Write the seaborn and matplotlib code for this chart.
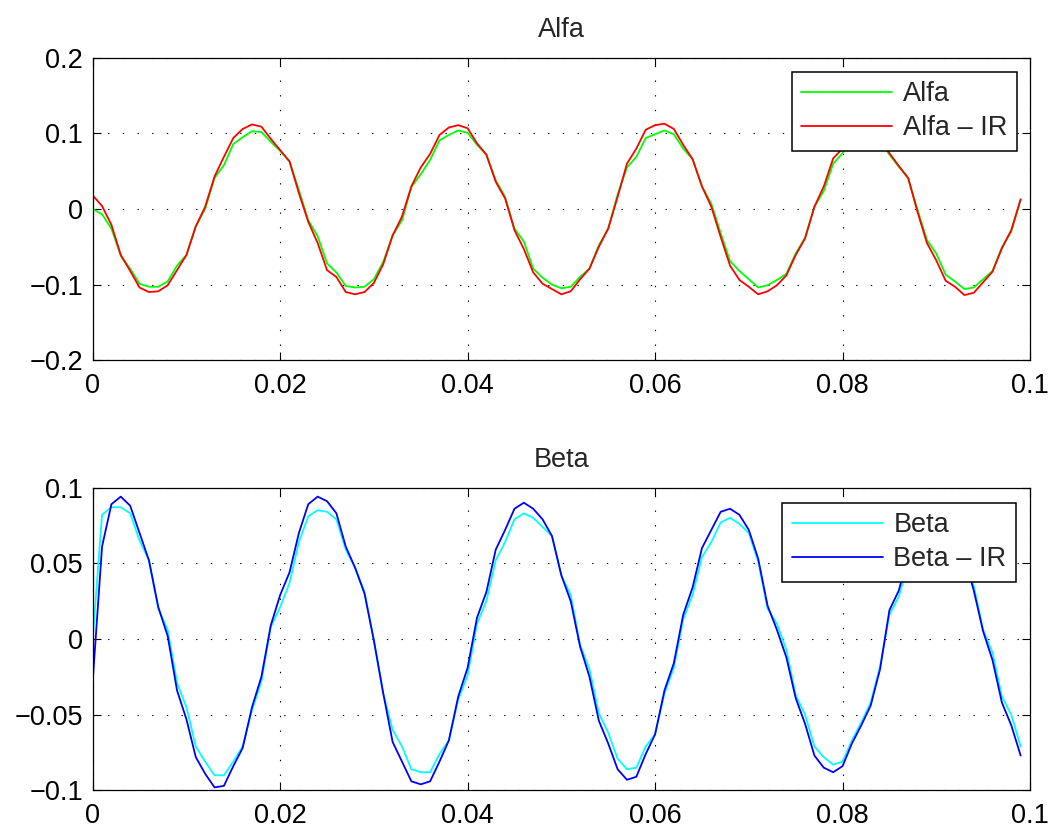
import matplotlib
matplotlib.use("Agg")
import matplotlib.pyplot as plt
import numpy as np
import pandas as pd
import seaborn as sns

# ── Data (1 kHz sampling, 100 samples) ───────────────────────────────────────
t = np.arange(100) * 0.001

alfa = [
    0.000, -0.007, -0.026, -0.062, -0.079, -0.099, -0.103, -0.103, -0.096, -0.075,
    -0.061, -0.023, 0.000, 0.041, 0.058, 0.086, 0.095, 0.103, 0.102, 0.089,
    0.077, 0.063, 0.025, -0.015, -0.036, -0.072, -0.084, -0.102, -0.104, -0.103,
    -0.093, -0.070, -0.035, -0.015, 0.029, 0.046, 0.065, 0.091, 0.098, 0.104,
    0.101, 0.085, 0.072, 0.038, 0.016, -0.026, -0.043, -0.079, -0.091, -0.100,
    -0.105, -0.103, -0.090, -0.079, -0.048, -0.026, 0.019, 0.055, 0.069, 0.094,
    0.099, 0.104, 0.099, 0.080, 0.066, 0.030, 0.007, -0.032, -0.069, -0.082,
    -0.093, -0.104, -0.101, -0.094, -0.086, -0.059, -0.038, 0.003, 0.024, 0.060,
    0.074, 0.093, 0.102, 0.103, 0.090, 0.072, 0.056, 0.041, -0.001, -0.041,
    -0.059, -0.087, -0.096, -0.106, -0.104, -0.093, -0.082, -0.051, -0.030, 0.012,
]

alfa_ir = [
    0.018, 0.004, -0.021, -0.061, -0.082, -0.104, -0.110, -0.109, -0.101, -0.081,
    -0.061, -0.023, 0.003, 0.043, 0.069, 0.094, 0.106, 0.112, 0.109, 0.093,
    0.078, 0.063, 0.021, -0.017, -0.045, -0.081, -0.090, -0.110, -0.113, -0.110,
    -0.098, -0.073, -0.035, -0.010, 0.030, 0.055, 0.073, 0.098, 0.108, 0.111,
    0.107, 0.087, 0.072, 0.036, 0.014, -0.028, -0.053, -0.084, -0.099, -0.106,
    -0.113, -0.109, -0.093, -0.079, -0.050, -0.026, 0.016, 0.060, 0.080, 0.105,
    0.111, 0.113, 0.106, 0.085, 0.066, 0.030, 0.003, -0.037, -0.075, -0.094,
    -0.103, -0.113, -0.109, -0.101, -0.088, -0.061, -0.039, 0.003, 0.030, 0.067,
    0.080, 0.100, 0.110, 0.111, 0.096, 0.074, 0.057, 0.041, -0.004, -0.045,
    -0.068, -0.095, -0.103, -0.114, -0.111, -0.097, -0.083, -0.052, -0.028, 0.013,
]

beta = [
    0.000, 0.082, 0.087, 0.087, 0.083, 0.065, 0.052, 0.020, 0.006, -0.029,
    -0.045, -0.071, -0.081, -0.090, -0.090, -0.081, -0.071, -0.047, -0.028, 0.008,
    0.021, 0.037, 0.064, 0.081, 0.085, 0.084, 0.079, 0.059, 0.047, 0.031,
    -0.001, -0.036, -0.060, -0.071, -0.086, -0.088, -0.088, -0.076, -0.067, -0.040,
    -0.024, 0.010, 0.025, 0.052, 0.064, 0.079, 0.083, 0.080, 0.074, 0.068,
    0.042, 0.029, -0.004, -0.020, -0.049, -0.062, -0.079, -0.086, -0.085, -0.071,
    -0.063, -0.036, -0.019, 0.013, 0.029, 0.054, 0.064, 0.077, 0.080, 0.076,
    0.070, 0.051, 0.020, 0.010, -0.007, -0.037, -0.050, -0.071, -0.078, -0.083,
    -0.081, -0.067, -0.055, -0.042, -0.018, 0.016, 0.028, 0.050, 0.066, 0.076,
    0.080, 0.077, 0.068, 0.052, 0.035, 0.006, -0.009, -0.038, -0.050, -0.071,
]

beta_ir = [
    -0.028, 0.061, 0.089, 0.094, 0.088, 0.070, 0.052, 0.021, 0.002, -0.034,
    -0.053, -0.078, -0.089, -0.098, -0.097, -0.084, -0.072, -0.045, -0.025, 0.009,
    0.029, 0.044, 0.070, 0.089, 0.094, 0.091, 0.083, 0.061, 0.047, 0.030,
    -0.001, -0.036, -0.068, -0.081, -0.094, -0.096, -0.094, -0.081, -0.067, -0.038,
    -0.019, 0.014, 0.031, 0.059, 0.072, 0.086, 0.090, 0.086, 0.079, 0.068,
    0.042, 0.025, -0.005, -0.025, -0.054, -0.069, -0.086, -0.093, -0.091, -0.076,
    -0.063, -0.034, -0.016, 0.016, 0.034, 0.060, 0.072, 0.084, 0.086, 0.082,
    0.072, 0.053, 0.022, 0.006, -0.012, -0.039, -0.056, -0.077, -0.085, -0.088,
    -0.084, -0.069, -0.057, -0.044, -0.020, 0.019, 0.032, 0.055, 0.072, 0.083,
    0.086, 0.082, 0.072, 0.054, 0.032, 0.005, -0.014, -0.042, -0.057, -0.077,
]

x_ticks = [0, 0.02, 0.04, 0.06, 0.08, 0.1]
x_tick_labels = ["0", "0.02", "0.04", "0.06", "0.08", "0.1"]
alfa_ticks = [-0.2, -0.1, 0, 0.1, 0.2]
alfa_tick_labels = ["\u22120.2", "\u22120.1", "0", "0.1", "0.2"]
beta_ticks = [-0.1, -0.05, 0, 0.05, 0.1]
beta_tick_labels = ["\u22120.1", "\u22120.05", "0", "0.05", "0.1"]

FS = 19.5

sns.set_style("ticks")
plt.rcParams["font.family"] = ["Liberation Sans", "DejaVu Sans"]


def draw_panel(ax, title, names, series, colors, yticks, ylabels, legend_anchor):
    df = pd.DataFrame({"t": t, names[0]: series[0], names[1]: series[1]})
    long = df.melt(id_vars="t", var_name="series", value_name="value")
    sns.lineplot(
        data=long, x="t", y="value", hue="series", hue_order=names,
        palette=dict(zip(names, colors)), linewidth=1.3, ax=ax,
    )
    ax.set_xlim(0, 0.1)
    ax.set_ylim(yticks[0], yticks[-1])
    ax.set_xticks(x_ticks)
    ax.set_xticklabels(x_tick_labels, fontsize=FS)
    ax.set_yticks(yticks)
    ax.set_yticklabels(ylabels, fontsize=FS)
    ax.set_xlabel("")
    ax.set_ylabel("")
    ax.set_title(title, fontsize=FS, pad=15)
    ax.grid(True, color="black", linestyle=(0, (1.2, 12)), linewidth=0.8)
    ax.tick_params(direction="in", top=True, right=True, length=6,
                   width=0.8, colors="black")
    ax.tick_params(axis="x", pad=9)
    ax.tick_params(axis="y", pad=7)
    for sp in ax.spines.values():
        sp.set_linewidth(0.9)
        sp.set_color("black")

    old = ax.get_legend()
    handles = old.legend_handles
    labels = [txt.get_text() for txt in old.get_texts()]
    leg = ax.legend(
        handles, labels, loc="upper right", bbox_to_anchor=legend_anchor,
        fontsize=FS, frameon=True, fancybox=False, framealpha=1,
        edgecolor="black", handlelength=3.35, borderaxespad=0,
        borderpad=0.35, labelspacing=0.3, handletextpad=0.4,
    )
    leg.get_frame().set_linewidth(1.1)
    for h in leg.legend_handles:
        h.set_linewidth(1.3)


fig = plt.figure(figsize=(10.52, 8.32), dpi=100)
ax_top = fig.add_axes([0.0881, 0.5673, 0.891, 0.363])
ax_bot = fig.add_axes([0.0881, 0.050, 0.891, 0.364])

draw_panel(ax_top, "Alfa", ["Alfa", "Alfa \u2013 IR"], [alfa, alfa_ir],
           ["#00ff00", "#ff0000"], alfa_ticks, alfa_tick_labels, (0.986, 0.954))
draw_panel(ax_bot, "Beta", ["Beta", "Beta \u2013 IR"], [beta, beta_ir],
           ["#00ffff", "#0000ff"], beta_ticks, beta_tick_labels, (0.985, 0.950))

fig.savefig("out.png", dpi=100)
